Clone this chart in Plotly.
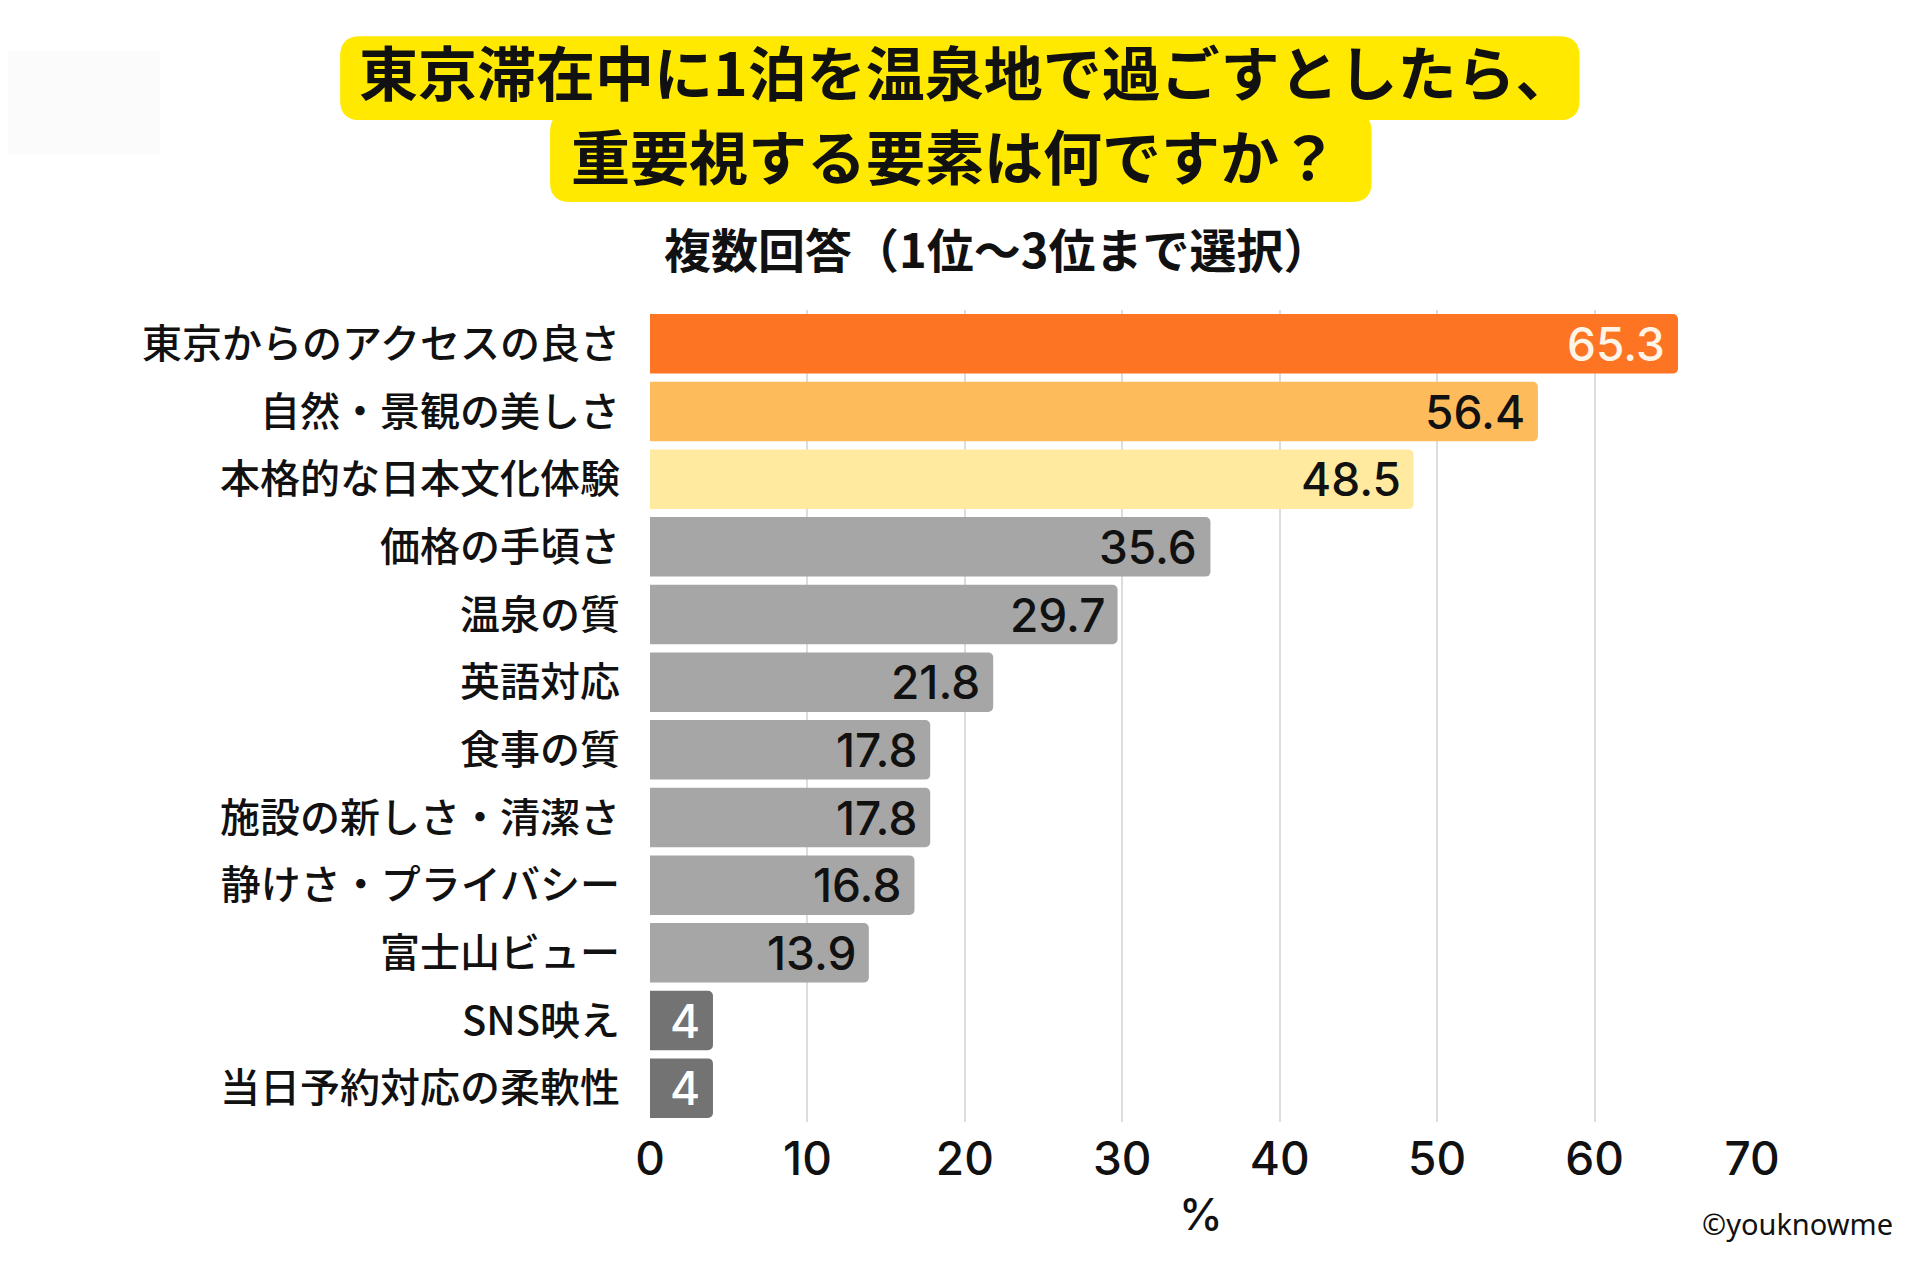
import plotly.graph_objects as go

categories = [
    "東京からのアクセスの良さ",
    "自然・景観の美しさ",
    "本格的な日本文化体験",
    "価格の手頃さ",
    "温泉の質",
    "英語対応",
    "食事の質",
    "施設の新しさ・清潔さ",
    "静けさ・プライバシー",
    "富士山ビュー",
    "SNS映え",
    "当日予約対応の柔軟性",
]
values = [65.3, 56.4, 48.5, 35.6, 29.7, 21.8, 17.8, 17.8, 16.8, 13.9, 4, 4]
bar_colors = ["#FD7522", "#FDBB5C", "#FFEA9F"] + ["#A6A6A6"] * 7 + ["#737373"] * 2
label_colors = ["#FFF4E8"] + ["#111111"] * 9 + ["#FFFFFF"] * 2
x_ticks = [0, 10, 20, 30, 40, 50, 60, 70]

title_line1 = "東京滞在中に1泊を温泉地で過ごすとしたら、"
title_line2 = "重要視する要素は何ですか？"
subtitle = "複数回答（1位～3位まで選択）"
x_title = "%"
credit = "©youknowme"

FONT = "Noto Sans CJK JP"
NUMFONT = "Inter"
OFF = 8  # page body margin
W, H = 1920 - 2 * OFF, 1280 - 2 * OFF
# plot area in screenshot coordinates
SX0, SX1, SY0, SY1 = 650, 1752.5, 310, 1122.5
L = SX0 - OFF
T = SY0 - OFF
R = W - (SX1 - OFF)
B = H - (SY1 - OFF)
PW, PH = W - L - R, H - T - B


def px(x):
    return (x - SX0) / PW


def py(y):
    return (SY1 - y) / PH


def rounded_rect(x0, y0, x1, y1, r):
    pts = [
        f"M {px(x0 + r)},{py(y0)}",
        f"L {px(x1 - r)},{py(y0)}",
        f"Q {px(x1)},{py(y0)} {px(x1)},{py(y0 + r)}",
        f"L {px(x1)},{py(y1 - r)}",
        f"Q {px(x1)},{py(y1)} {px(x1 - r)},{py(y1)}",
        f"L {px(x0 + r)},{py(y1)}",
        f"Q {px(x0)},{py(y1)} {px(x0)},{py(y1 - r)}",
        f"L {px(x0)},{py(y0 + r)}",
        f"Q {px(x0)},{py(y0)} {px(x0 + r)},{py(y0)}",
        "Z",
    ]
    return " ".join(pts)


fig = go.Figure(
    go.Bar(
        x=values,
        y=categories,
        orientation="h",
        marker=dict(color=bar_colors, line=dict(width=0), cornerradius=5),
        hoverinfo="skip",
    )
)

annotations = []
for c, v, col in zip(categories, values, label_colors):
    annotations.append(
        dict(
            x=v, y=c, xref="x", yref="y",
            text=f"{v:g}", showarrow=False,
            xanchor="right", yanchor="middle", xshift=-11,
            font=dict(family=NUMFONT, size=46, color=col, weight=500),
        )
    )

annotations += [
    dict(x=px(967), y=py(70), xref="paper", yref="paper", text=f"<b>{title_line1}</b>",
         showarrow=False, xanchor="center", yanchor="middle",
         font=dict(family=FONT, size=59, color="#111111")),
    dict(x=px(955), y=py(154), xref="paper", yref="paper", text=f"<b>{title_line2}</b>",
         showarrow=False, xanchor="center", yanchor="middle",
         font=dict(family=FONT, size=59, color="#111111")),
    dict(x=px(997), y=py(247), xref="paper", yref="paper", text=f"<b>{subtitle}</b>",
         showarrow=False, xanchor="center", yanchor="middle",
         font=dict(family=FONT, size=47, color="#111111")),
    dict(x=0.5, y=py(1215), xref="paper", yref="paper", text=x_title,
         showarrow=False, xanchor="center", yanchor="middle",
         font=dict(family=NUMFONT, size=44, color="#111111", weight=500)),
    dict(x=px(1896), y=py(1224), xref="paper", yref="paper", text=credit,
         showarrow=False, xanchor="right", yanchor="middle",
         font=dict(family="Noto Sans", size=29, color="#111111")),
]

shapes = [
    dict(type="rect", xref="paper", yref="paper",
         x0=px(OFF), x1=px(160), y0=py(51), y1=py(155),
         fillcolor="#FBFBFB", line=dict(width=0), layer="below"),
    dict(type="path", xref="paper", yref="paper",
         path=rounded_rect(340, 36, 1580, 120, 20),
         fillcolor="#FFE900", line=dict(width=0), layer="below"),
    dict(type="path", xref="paper", yref="paper",
         path=rounded_rect(550, 112, 1372, 202, 20),
         fillcolor="#FFE900", line=dict(width=0), layer="below"),
]

fig.update_layout(
    width=W, height=H,
    margin=dict(l=L, r=R, t=T, b=B, pad=0),
    paper_bgcolor="white", plot_bgcolor="white",
    bargap=0.12,
    showlegend=False,
    annotations=annotations,
    shapes=shapes,
    font=dict(family=FONT, color="#111111"),
)
fig.update_xaxes(
    range=[0, 70], tickvals=x_ticks, ticktext=[str(t) for t in x_ticks],
    showgrid=True, gridcolor="#DDDDDD", gridwidth=1.5,
    zeroline=False, showline=False, ticks="",
    ticklabelstandoff=6,
    tickfont=dict(family=NUMFONT, size=46, color="#111111", weight=500),
    fixedrange=True,
)
fig.update_yaxes(
    autorange="reversed", showgrid=False, zeroline=False, showline=False,
    ticks="", ticklabelstandoff=29,
    tickfont=dict(family=FONT, size=40, color="#111111", weight=500),
    fixedrange=True,
)

fig.write_html("out.html", config={"displayModeBar": False})
